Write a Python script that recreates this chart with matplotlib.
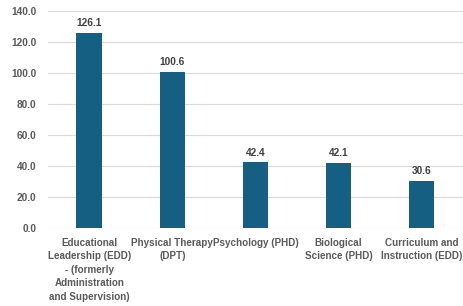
import matplotlib.pyplot as plt
import numpy as np

categories = ['Educational\nLeadership (EDD)\n- (formerly\nAdministration\nand Supervision)',
              'Physical Therapy\n(DPT)',
              'Psychology (PHD)',
              'Biological\nScience (PHD)',
              'Curriculum and\nInstruction (EDD)']
values = [126.1, 100.6, 42.4, 42.1, 30.6]
yticks = [0, 20, 40, 60, 80, 100, 120, 140]

plt.rcParams['font.family'] = ['Liberation Sans', 'DejaVu Sans']

fig = plt.figure(figsize=(4.64, 3.06), dpi=100)
ax = fig.add_axes([0.103, 0.255, 0.895, 0.709])

x = np.arange(len(categories))
bars = ax.bar(x, values, width=0.31, color='#156082', zorder=3)

for xi, v in zip(x, values):
    ax.text(xi, v + 3, f'{v:.1f}', ha='center', va='bottom',
            fontsize=7.3, fontweight='bold', color='#404040')

ax.set_xlim(-0.5, len(categories) - 0.5)
ax.set_ylim(0, 140)
ax.set_yticks(yticks)
ax.set_yticklabels([f'{t:.1f}' for t in yticks], fontsize=7.3,
                   fontweight='bold', color='#595959')
ax.set_xticks(x)
ax.set_xticklabels(categories, fontsize=7.1, fontweight='bold',
                   color='#595959', linespacing=1.45)
ax.tick_params(length=0, pad=8)
ax.tick_params(axis='x', pad=7)
ax.grid(axis='y', color='#d9d9d9', linewidth=0.8, zorder=0)
for s in ax.spines.values():
    s.set_visible(False)

plt.savefig('out.png', dpi=100)
